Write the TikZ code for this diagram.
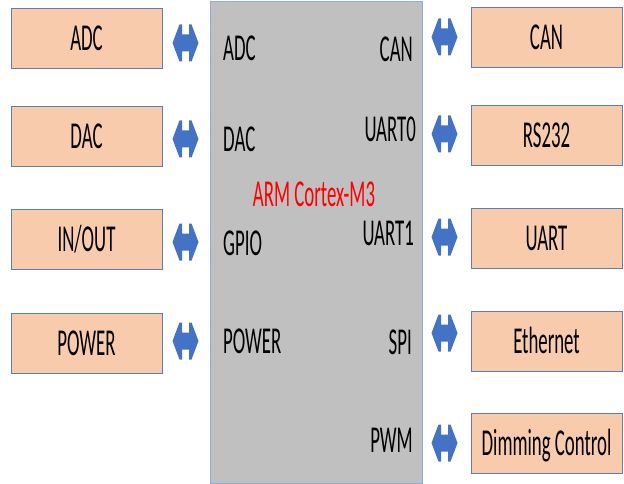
\documentclass[tikz,border=0pt]{standalone}
\usepackage{fontspec}
\setmainfont[FakeStretch=0.495]{Carlito}
\definecolor{peach}{HTML}{F8CBAD}
\definecolor{boxline}{HTML}{5B7FB5}
\definecolor{chipfill}{HTML}{C0C0C0}
\definecolor{chipline}{HTML}{8FAADC}
\definecolor{arrowblue}{HTML}{4472C4}
\tikzset{
  lbl/.style={inner sep=0pt, text height=24pt, text depth=0pt, font=\fontsize{38}{42}\selectfont},
  periph/.style={lbl, draw=boxline, line width=1pt, fill=peach, minimum width=151pt, minimum height=60pt},
  chipbox/.style={draw=chipline, line width=1pt, fill=chipfill, minimum width=212pt, minimum height=481pt, inner sep=0pt},
  dbl/.pic={\fill[arrowblue] (-13,0) -- (-6,-18.5) -- (-3.5,-18.5) -- (-3.5,-8.5) -- (3.5,-8.5) -- (3.5,-18.5) -- (6,-18.5) -- (13,0) -- (6,18.5) -- (3.5,18.5) -- (3.5,8.5) -- (-3.5,8.5) -- (-3.5,18.5) -- (-6,18.5) -- cycle;}
}
\begin{document}
\begin{tikzpicture}[x=1pt,y=-1pt]
\useasboundingbox[fill=white] (0,0) rectangle (624,484);
% chip
\node[chipbox] (chip) at (316,242.5) {};
\node[lbl, text=red] (arm) at (314,195) {ARM Cortex-M3};
% chip labels left
\node[lbl, anchor=west] (cadc) at (223,49) {ADC};
\node[lbl, anchor=west] (cdac) at (223,139.5) {DAC};
\node[lbl, anchor=west] (cgpio) at (223,243) {GPIO};
\node[lbl, anchor=west] (cpow) at (223,341) {POWER};
% chip labels right
\node[lbl, anchor=east] (ccan) at (413,49.5) {CAN};
\node[lbl, anchor=east] (cu0) at (416,129.5) {UART0};
\node[lbl, anchor=east] (cu1) at (414,233.5) {UART1};
\node[lbl, anchor=east] (cspi) at (412,342) {SPI};
\node[lbl, anchor=east] (cpwm) at (413,440) {PWM};
% left peripherals
\node[periph] (adc) at (86.5,38.5) {ADC};
\node[periph] (dac) at (86.5,137) {DAC};
\node[periph] (io) at (86.5,239.5) {IN/OUT};
\node[periph] (pow) at (86.5,343) {POWER};
% right peripherals
\node[periph] (can) at (546.5,37.5) {CAN};
\node[periph] (rs) at (546.5,135.5) {RS232};
\node[periph] (uart) at (546.5,238) {UART};
\node[periph] (eth) at (546.5,341) {Ethernet};
\node[periph] (dim) at (546.5,443) {Dimming Control};
% double arrows
\pic (a1) at (185.5,43) {dbl};
\pic (a2) at (185.5,139) {dbl};
\pic (a3) at (185.5,242) {dbl};
\pic (a4) at (185.5,341) {dbl};
\pic (b1) at (444.5,37) {dbl};
\pic (b2) at (444.5,134) {dbl};
\pic (b3) at (444.5,237) {dbl};
\pic (b4) at (444.5,333) {dbl};
\pic (b5) at (444.5,443) {dbl};
\end{tikzpicture}
\end{document}
